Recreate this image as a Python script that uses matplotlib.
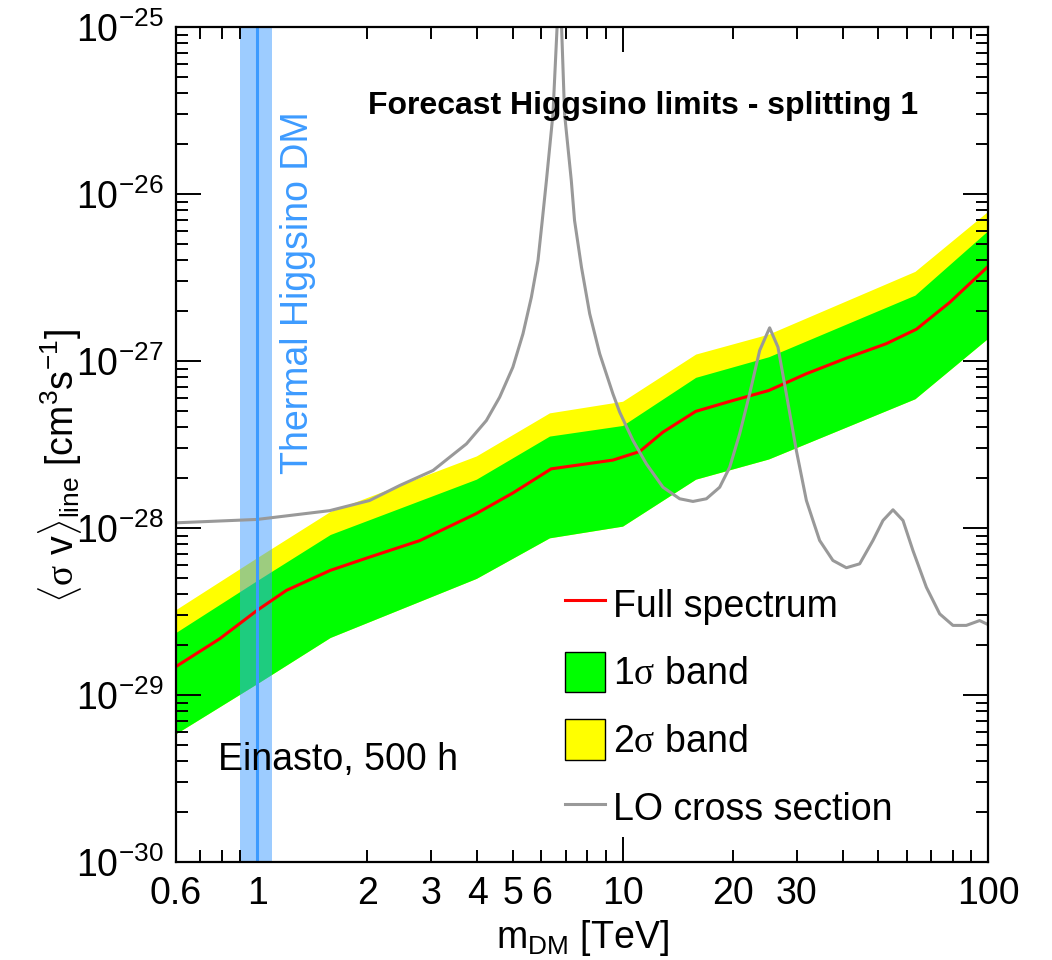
import numpy as np
import matplotlib
matplotlib.use('Agg')
import matplotlib.pyplot as plt
from matplotlib.lines import Line2D
from matplotlib.patches import Patch
from matplotlib.ticker import LogLocator, FuncFormatter, NullFormatter

plt.rcParams['font.family'] = ['Liberation Sans', 'DejaVu Sans']
plt.rcParams['mathtext.fontset'] = 'custom'
plt.rcParams['mathtext.rm'] = 'Liberation Serif'
plt.rcParams['mathtext.sf'] = 'Liberation Sans'
plt.rcParams['mathtext.it'] = 'Liberation Sans:italic'

# expected limits
band_mass = [0.6, 1.0, 1.585, 3.98, 6.31, 10, 15.85, 25.1, 63.1, 100]
sig2_up = [3.25e-29, 6.65e-29, 1.256e-28, 2.70e-28, 4.89e-28, 5.74e-28, 1.10e-27, 1.45e-27, 3.44e-27, 7.89e-27]
sig1_up = [2.37e-29, 4.85e-29, 9.14e-29, 1.96e-28, 3.55e-28, 4.11e-28, 7.98e-28, 1.06e-27, 2.48e-27, 6.04e-27]
sig1_lo = [5.87e-30, 1.17e-29, 2.21e-29, 4.99e-29, 8.73e-29, 1.026e-28, 1.96e-28, 2.59e-28, 5.94e-28, 1.37e-27]

# full spectrum median
red_mass = [0.6, 0.79, 1.0, 1.203, 1.585, 2.03, 2.79, 3.98, 5.01, 6.38, 7.96, 9.41,
            11.14, 12.9, 15.85, 20.05, 25.1, 31.8, 40.96, 52.7, 63.7, 78.5, 100]
red_xsec = [1.48e-29, 2.17e-29, 3.21e-29, 4.23e-29, 5.57e-29, 6.69e-29, 8.41e-29, 1.22e-28,
            1.62e-28, 2.26e-28, 2.42e-28, 2.55e-28, 2.87e-28, 3.75e-28, 4.99e-28, 5.80e-28,
            6.65e-28, 8.38e-28, 1.04e-27, 1.27e-27, 1.55e-27, 2.24e-27, 3.68e-27]

# LO cross section
lo_mass = [0.601, 1.0, 1.58, 2.03, 2.456, 3.03, 3.74, 4.24, 4.61, 5.01, 5.34, 5.63, 5.87,
           6.03, 6.19, 6.45, 6.62, 6.71, 6.81, 6.94, 7.24, 7.39, 7.72, 8.13, 8.66, 9.41,
           9.82, 10.68, 11.62, 12.90, 14.33, 15.58, 16.96, 18.44, 19.64, 20.91, 22.27,
           23.72, 25.26, 26.62, 28.06, 29.89, 31.84, 33.19, 34.61, 37.63, 40.96, 44.54,
           48.43, 51.59, 54.94, 58.52, 62.30, 67.80, 73.74, 80.17, 87.2, 94.85, 100]
lo_xsec = [1.074e-28, 1.125e-28, 1.27e-28, 1.46e-28, 1.796e-28, 2.21e-28, 3.19e-28, 4.40e-28,
           6.07e-28, 9.18e-28, 1.455e-27, 2.41e-27, 4.00e-27, 6.94e-27, 1.204e-26, 3.01e-26,
           1.0e-25, 2.5e-25, 1.0e-25, 3.01e-26, 1.204e-26, 6.94e-27, 3.64e-27, 1.917e-27,
           1.104e-27, 6.36e-28, 4.94e-28, 3.34e-28, 2.42e-28, 1.754e-28, 1.496e-28, 1.442e-28,
           1.496e-28, 1.754e-28, 2.31e-28, 3.66e-28, 6.36e-28, 1.156e-27, 1.58e-27, 1.21e-27,
           6.36e-28, 2.91e-28, 1.461e-28, 1.109e-28, 8.42e-29, 6.39e-29, 5.78e-29, 6.10e-29,
           8.42e-29, 1.109e-28, 1.285e-28, 1.109e-28, 7.33e-29, 4.42e-29, 3.06e-29, 2.61e-29,
           2.61e-29, 2.79e-29, 2.64e-29]

# thermal higgsino mass window
thermal_mass = 1.0
thermal_lo = 0.9
thermal_hi = 1.1

xlabel_vals = [0.6, 2, 3, 4, 5, 6, 20, 30]

blue = '#3d9bff'

fig = plt.figure(figsize=(10.52, 9.6), dpi=100)
ax = fig.add_axes([0.1673, 0.1021, 0.7719, 0.8698])

ax.fill_between(band_mass, sig1_lo, sig2_up, color='#ffff00', lw=0)
ax.fill_between(band_mass, sig1_lo, sig1_up, color='#00ff00', lw=0)
ax.plot(red_mass, red_xsec, color='red', lw=2.2)
ax.plot(lo_mass, lo_xsec, color='#999999', lw=2.2)

ax.axvspan(thermal_lo, thermal_hi, color=blue, alpha=0.5, lw=0)
ax.axvline(thermal_mass, color=blue, lw=2.2)

ax.set_xscale('log')
ax.set_yscale('log')
ax.set_xlim(0.6, 100)
ax.set_ylim(1e-30, 1e-25)

ax.xaxis.set_major_locator(LogLocator(base=10))
ax.xaxis.set_minor_locator(LogLocator(base=10, subs=np.arange(2, 10)))
ax.xaxis.set_major_formatter(FuncFormatter(lambda v, p: '%g' % v))
ax.xaxis.set_minor_formatter(FuncFormatter(
    lambda v, p: ('%g' % v) if any(abs(v - t) < 1e-6 * t for t in xlabel_vals) else ''))
ax.yaxis.set_minor_locator(LogLocator(base=10, subs=np.arange(2, 10)))
ax.yaxis.set_minor_formatter(NullFormatter())

ax.tick_params(which='both', direction='in', top=True, right=True, labelsize=27)
ax.tick_params(which='major', length=18, width=1.4)
ax.tick_params(which='minor', length=8.5, width=1.4)
ax.tick_params(axis='x', which='both', pad=10)
ax.tick_params(axis='y', which='both', pad=9)
for s in ax.spines.values():
    s.set_linewidth(1.6)

ax.set_xlabel(r'm$_{\mathdefault{DM}}$ [TeV]', fontsize=27)
ax.set_ylabel(r'$\langle\mathrm{\sigma}\ \mathdefault{v}\rangle_{\mathdefault{line}}$ [cm$^{\mathdefault{3}}$s$^{\mathdefault{-1}}$]',
              fontsize=27)
ax.xaxis.set_label_coords(0.501, -0.067)
ax.yaxis.set_label_coords(-0.113, 0.474)

ax.text(0.2365, 0.896, 'Forecast Higgsino limits - splitting 1', transform=ax.transAxes,
        fontsize=23, fontweight='bold', ha='left', va='baseline')
ax.text(0.0517, 0.110, 'Einasto, 500 h', transform=ax.transAxes,
        fontsize=27, ha='left', va='baseline')
ax.text(0.150, 0.682, 'Thermal Higgsino DM', transform=ax.transAxes, rotation=90,
        fontsize=27, color=blue, ha='center', va='center')

handles = [Line2D([], [], color='red', lw=2.2),
           Patch(facecolor='#00ff00', edgecolor='black', lw=1),
           Patch(facecolor='#ffff00', edgecolor='black', lw=1),
           Line2D([], [], color='#999999', lw=2.2)]
labels = ['Full spectrum', r'1$\mathrm{\sigma}$ band', r'2$\mathrm{\sigma}$ band', 'LO cross section']
ax.legend(handles, labels, loc='upper left', bbox_to_anchor=(0.479, 0.333), frameon=False,
          fontsize=27, handlelength=1.07, handleheight=1.28, handletextpad=0.22,
          labelspacing=0.72, borderpad=0, borderaxespad=0)

fig.savefig('out.png', dpi=100)
